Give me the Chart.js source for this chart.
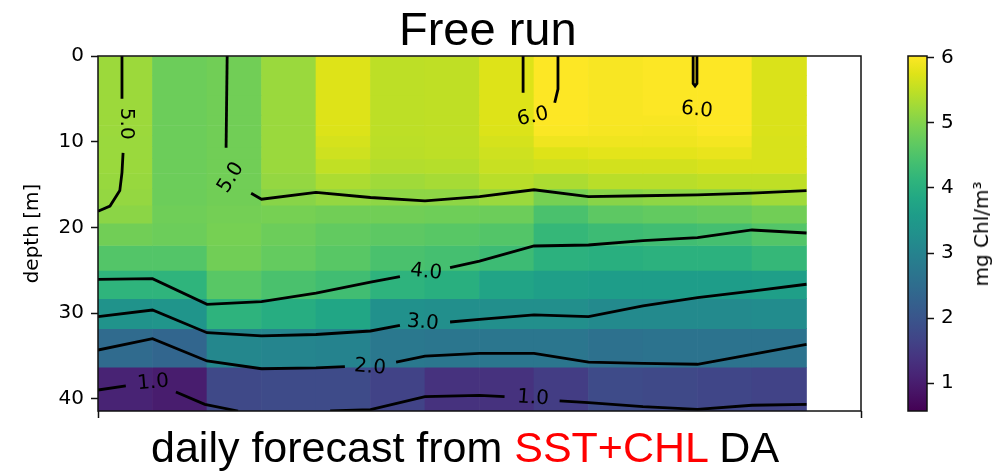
<!DOCTYPE html>
<html>
<head>
<meta charset="utf-8">
<title>Free run</title>
<script src="https://cdn.jsdelivr.net/npm/chart.js@4.4.1/dist/chart.umd.min.js"></script>
<style>
  html, body { margin: 0; padding: 0; background: #fff; }
  #wrap { position: relative; width: 997px; height: 474px; overflow: hidden; }
  canvas { position: absolute; top: 0; }
  #main { left: 0; }
  #cbar { left: 880px; }
  .caption { position: absolute; font-family: 'Liberation Sans', Arial, sans-serif; white-space: nowrap; line-height: 1; color: #000; }
  #title { left: 399px; top: 5px; font-size: 47px; }
  #bottom { left: 151px; top: 426px; font-size: 43px; }
  #bottom .red { color: #ff0000; }
  #cblabel { position: absolute; left: 981px; top: 234px; font-family: 'DejaVu Sans', sans-serif; font-size: 20px; line-height: 1;
             white-space: nowrap; transform: translate(-50%, -50%) rotate(-90deg); color: #000; }
</style>
</head>
<body>
<div id="wrap">
  <canvas id="main" width="997" height="474"></canvas>
  <canvas id="cbar" width="117" height="474"></canvas>
  <div id="title" class="caption">Free run</div>
  <div id="bottom" class="caption">daily forecast from <span class="red">SST+CHL</span> DA</div>
  <div id="cblabel">mg Chl/m³</div>
</div>
<script>
// ---- data ----
// daily columns (start of each forecast day) and model layer depths [m]
const days = [0, 1, 2, 3, 4, 5, 6, 7, 8, 9, 10, 11, 12];
const xRange = [0, 14];
const depthEdges = [0, 2.3, 4.6, 6.9, 8.1, 9.3, 10.6, 12.0, 13.7, 15.5, 17.4, 19.5, 22.1, 25.0, 28.3, 31.8, 36.3, 41.4];
const xTicks = [0, 14];
const yTicks = [0, 10, 20, 30, 40];
const cbTicks = [1, 2, 3, 4, 5, 6];
const cMin = 0.57, cMax = 6.03;

// chlorophyll [mg Chl/m3], one row per layer (top -> bottom), one value per day
const chl = [
  [5.22, 4.80, 4.85, 5.20, 5.75, 5.48, 5.50, 5.75, 6.03, 5.98, 6.02, 6.03, 5.72],
  [5.22, 4.80, 4.85, 5.20, 5.75, 5.48, 5.50, 5.75, 6.03, 5.98, 6.02, 6.03, 5.72],
  [5.22, 4.80, 4.85, 5.20, 5.75, 5.48, 5.50, 5.75, 6.03, 5.98, 6.02, 6.03, 5.72],
  [5.22, 4.80, 4.85, 5.20, 5.75, 5.48, 5.50, 5.75, 6.03, 5.98, 5.98, 6.03, 5.72],
  [5.21, 4.80, 4.85, 5.20, 5.73, 5.48, 5.50, 5.73, 6.00, 5.97, 5.95, 6.02, 5.72],
  [5.20, 4.80, 4.85, 5.20, 5.68, 5.47, 5.49, 5.68, 5.90, 5.90, 5.90, 5.95, 5.70],
  [5.20, 4.80, 4.85, 5.20, 5.62, 5.46, 5.48, 5.62, 5.75, 5.80, 5.80, 5.85, 5.70],
  [5.20, 4.80, 4.85, 5.20, 5.52, 5.40, 5.42, 5.57, 5.62, 5.65, 5.65, 5.70, 5.70],
  [5.18, 4.80, 4.85, 5.15, 5.35, 5.25, 5.30, 5.45, 5.35, 5.45, 5.45, 5.50, 5.50],
  [5.15, 4.80, 4.85, 5.05, 5.15, 5.10, 5.10, 5.20, 4.90, 5.05, 5.10, 5.10, 5.25],
  [5.08, 4.83, 4.88, 4.90, 4.85, 4.85, 4.82, 4.80, 4.45, 4.65, 4.70, 4.75, 4.85],
  [4.85, 4.80, 4.90, 4.80, 4.70, 4.65, 4.60, 4.55, 4.20, 4.30, 4.35, 4.40, 4.55],
  [4.55, 4.55, 4.85, 4.72, 4.60, 4.45, 4.40, 4.30, 4.05, 4.00, 4.05, 4.05, 4.20],
  [4.12, 4.12, 4.60, 4.45, 4.35, 4.10, 4.00, 3.75, 3.65, 3.60, 3.60, 3.60, 3.65],
  [3.35, 3.40, 4.10, 3.95, 3.80, 3.30, 3.25, 3.25, 3.25, 3.15, 3.15, 3.15, 3.20],
  [2.45, 2.35, 3.10, 3.05, 3.00, 2.75, 2.70, 2.70, 2.70, 2.60, 2.65, 2.65, 2.65],
  [1.10, 1.00, 1.75, 1.80, 1.80, 1.65, 1.35, 1.35, 1.55, 1.80, 1.75, 1.70, 1.65]
];

// contour lines, segments of [day, depth] (broken where labels sit)
const contour6 = [
  [[7.80, 0], [7.80, 4.3]],
  [[8.44, 0], [8.44, 3.85], [8.38, 5.45]],
  [[10.92, 0], [10.92, 3.2], [10.955, 3.5], [10.99, 3.2], [10.99, 0]]
];
const contour5 = [
  [[0.44, 0], [0.44, 5.0]],
  [[0.46, 11.3], [0.44, 13.6], [0.40, 15.7], [0.22, 17.5], [0, 18.1]],
  [[2.37, 0], [2.35, 10.7]],
  [[2.81, 16.0], [3, 16.7], [4, 15.9], [5, 16.5], [6, 16.9], [7, 16.4], [8, 15.6], [9, 16.4], [10, 16.3], [11, 16.2], [12, 16.0], [13, 15.7]]
];
const contour4 = [
  [[0, 26.04], [1, 25.97], [2, 28.96], [3, 28.65], [4, 27.65], [5, 26.38], [5.54, 25.74]],
  [[6.46, 24.69], [7, 23.91], [8, 22.16], [9, 22.04], [10, 21.52], [11, 21.17], [12, 20.29], [13, 20.64]]
];
const contour3 = [
  [[0, 30.40], [1, 29.62], [2, 32.27], [3, 32.65], [4, 32.48], [5, 32.07], [5.54, 31.40]],
  [[6.46, 31.02], [7, 30.71], [8, 30.20], [9, 30.40], [10, 29.15], [11, 28.19], [12, 27.41], [13, 26.62]]
];
const contour2 = [
  [[0, 34.29], [1, 32.97], [2, 35.57], [3, 36.47], [4, 36.38], [4.53, 36.23]],
  [[5.47, 35.69], [6, 34.99], [7, 34.67], [8, 34.67], [9, 35.69], [10, 35.84], [11, 35.95], [12, 34.79], [13, 33.62]]
];
const contour1 = [
  [[0, 38.95], [0.51, 38.48]],
  [[1.43, 39.18], [1.96, 40.62], [2.57, 41.4]],
  [[4.26, 41.4], [5, 41.24], [6, 39.73], [7, 39.57], [7.46, 39.73]],
  [[8.47, 40.23], [9, 40.43], [10, 40.90], [11, 41.2], [12, 40.73], [13, 40.62]]
];
// inline labels: text, day, depth, angle (deg)
const contourLabels = [
  ['5.0', 0.51, 7.9, 90],
  ['5.0', 2.44, 14.2, -58],
  ['6.0', 7.98, 7.1, -12],
  ['6.0', 10.99, 6.3, 6],
  ['4.0', 6.02, 25.2, 6],
  ['3.0', 5.96, 31.1, 5],
  ['2.0', 4.99, 36.3, 5],
  ['1.0', 1.01, 38.1, -5],
  ['1.0', 7.98, 39.9, 4]
];

// ---- viridis ----
const VIRIDIS = ['#440154', '#471365', '#482475', '#463480', '#414487', '#3b528b', '#355f8d',
  '#2f6c8e', '#2a788e', '#25848e', '#21918c', '#1e9c89', '#22a884', '#2fb47c', '#44bf70',
  '#5ec962', '#7ad151', '#9bd93c', '#bddf26', '#dfe318', '#fde725'];

function hexRgb(h) {
  return [1, 3, 5].map(i => parseInt(h.substr(i, 2), 16));
}
function viridis(v) {
  let t = (v - cMin) / (cMax - cMin);
  t = Math.max(0, Math.min(1, t)) * (VIRIDIS.length - 1);
  const i = Math.min(Math.floor(t), VIRIDIS.length - 2);
  const f = t - i;
  const a = hexRgb(VIRIDIS[i]), b = hexRgb(VIRIDIS[i + 1]);
  const c = a.map((x, k) => Math.round(x + (b[k] - x) * f));
  return `rgb(${c[0]},${c[1]},${c[2]})`;
}

// ---- plugins ----
const framePlugin = {
  id: 'frame',
  afterDatasetsDraw(chart) {
    const { ctx, chartArea: a } = chart;
    ctx.save();
    ctx.strokeStyle = '#111';
    ctx.lineWidth = 1.5;
    ctx.strokeRect(a.left, a.top, a.width, a.height);
    ctx.restore();
  }
};

const labelPlugin = {
  id: 'contourLabels',
  afterDatasetsDraw(chart) {
    const { ctx, scales } = chart;
    ctx.save();
    ctx.fillStyle = '#000';
    ctx.font = '20px "DejaVu Sans"';
    ctx.textAlign = 'center';
    ctx.textBaseline = 'middle';
    contourLabels.forEach(([txt, d, z, ang]) => {
      ctx.save();
      ctx.translate(scales.x.getPixelForValue(d), scales.y.getPixelForValue(z));
      ctx.rotate(ang * Math.PI / 180);
      ctx.fillText(txt, 0, 0);
      ctx.restore();
    });
    ctx.restore();
  }
};

const tickFont = { family: 'DejaVu Sans', size: 20 };

// ---- main heatmap + contours ----
const heatSets = chl.map((row, j) => ({
  type: 'bar',
  data: row.map((v, k) => ({ x: days[k] + 0.5, y: [depthEdges[j], depthEdges[j + 1]] })),
  backgroundColor: row.map(viridis),
  borderWidth: 0,
  barPercentage: 1,
  categoryPercentage: 1,
  grouped: false,
  order: 2
}));

const lineSets = [contour6, contour5, contour4, contour3, contour2, contour1].flat().map(seg => ({
  type: 'line',
  data: seg.map(([x, y]) => ({ x, y })),
  borderColor: '#000',
  borderWidth: 2.8,
  pointRadius: 0,
  tension: 0,
  fill: false,
  order: 1
}));

new Chart(document.getElementById('main'), {
  type: 'bar',
  data: { datasets: [...lineSets, ...heatSets] },
  options: {
    responsive: false,
    animation: false,
    devicePixelRatio: 1,
    layout: { padding: { left: 17, top: 56, right: 136, bottom: 53 } },
    plugins: { legend: { display: false }, tooltip: { enabled: false } },
    scales: {
      x: {
        type: 'linear', min: xRange[0], max: xRange[1], offset: false,
        grid: { drawOnChartArea: false, offset: false, tickLength: 7, tickColor: '#111', tickWidth: 1.5 },
        border: { display: false },
        ticks: { callback: () => '', autoSkip: false },
        afterBuildTicks: s => { s.ticks = xTicks.map(value => ({ value })); },
        afterFit: s => { s.height = 10; }
      },
      y: {
        type: 'linear', reverse: true, min: depthEdges[0], max: depthEdges[depthEdges.length - 1],
        grid: { drawOnChartArea: false, tickLength: 7, tickColor: '#111', tickWidth: 1.5 },
        border: { display: false },
        ticks: { color: '#000', font: tickFont, padding: 7, autoSkip: false },
        title: { display: true, text: 'depth [m]', color: '#000', font: tickFont, padding: 4 },
        afterBuildTicks: s => { s.ticks = yTicks.map(value => ({ value })); },
        afterFit: s => { s.width = 81; }
      }
    }
  },
  plugins: [labelPlugin, framePlugin]
});

// ---- colorbar ----
new Chart(document.getElementById('cbar'), {
  type: 'bar',
  data: {
    labels: [''],
    datasets: [{
      data: [[cMin, cMax]],
      backgroundColor: c => {
        const area = c.chart.chartArea;
        if (!area) return VIRIDIS[10];
        const g = c.chart.ctx.createLinearGradient(0, area.bottom, 0, area.top);
        VIRIDIS.forEach((col, i) => g.addColorStop(i / (VIRIDIS.length - 1), col));
        return g;
      },
      borderWidth: 0,
      barPercentage: 1,
      categoryPercentage: 1
    }]
  },
  options: {
    responsive: false,
    animation: false,
    devicePixelRatio: 1,
    layout: { padding: { left: 28, top: 56, right: 0, bottom: 63 } },
    plugins: { legend: { display: false }, tooltip: { enabled: false } },
    scales: {
      x: { display: false },
      y: {
        position: 'right', min: cMin, max: cMax,
        grid: { drawOnChartArea: false, tickLength: 7, tickColor: '#111', tickWidth: 1.5 },
        border: { display: false },
        ticks: { color: '#000', font: tickFont, padding: 7, autoSkip: false },
        afterBuildTicks: s => { s.ticks = cbTicks.map(value => ({ value })); },
        afterFit: s => { s.width = 70; }
      }
    }
  },
  plugins: [framePlugin]
});
</script>
</body>
</html>
